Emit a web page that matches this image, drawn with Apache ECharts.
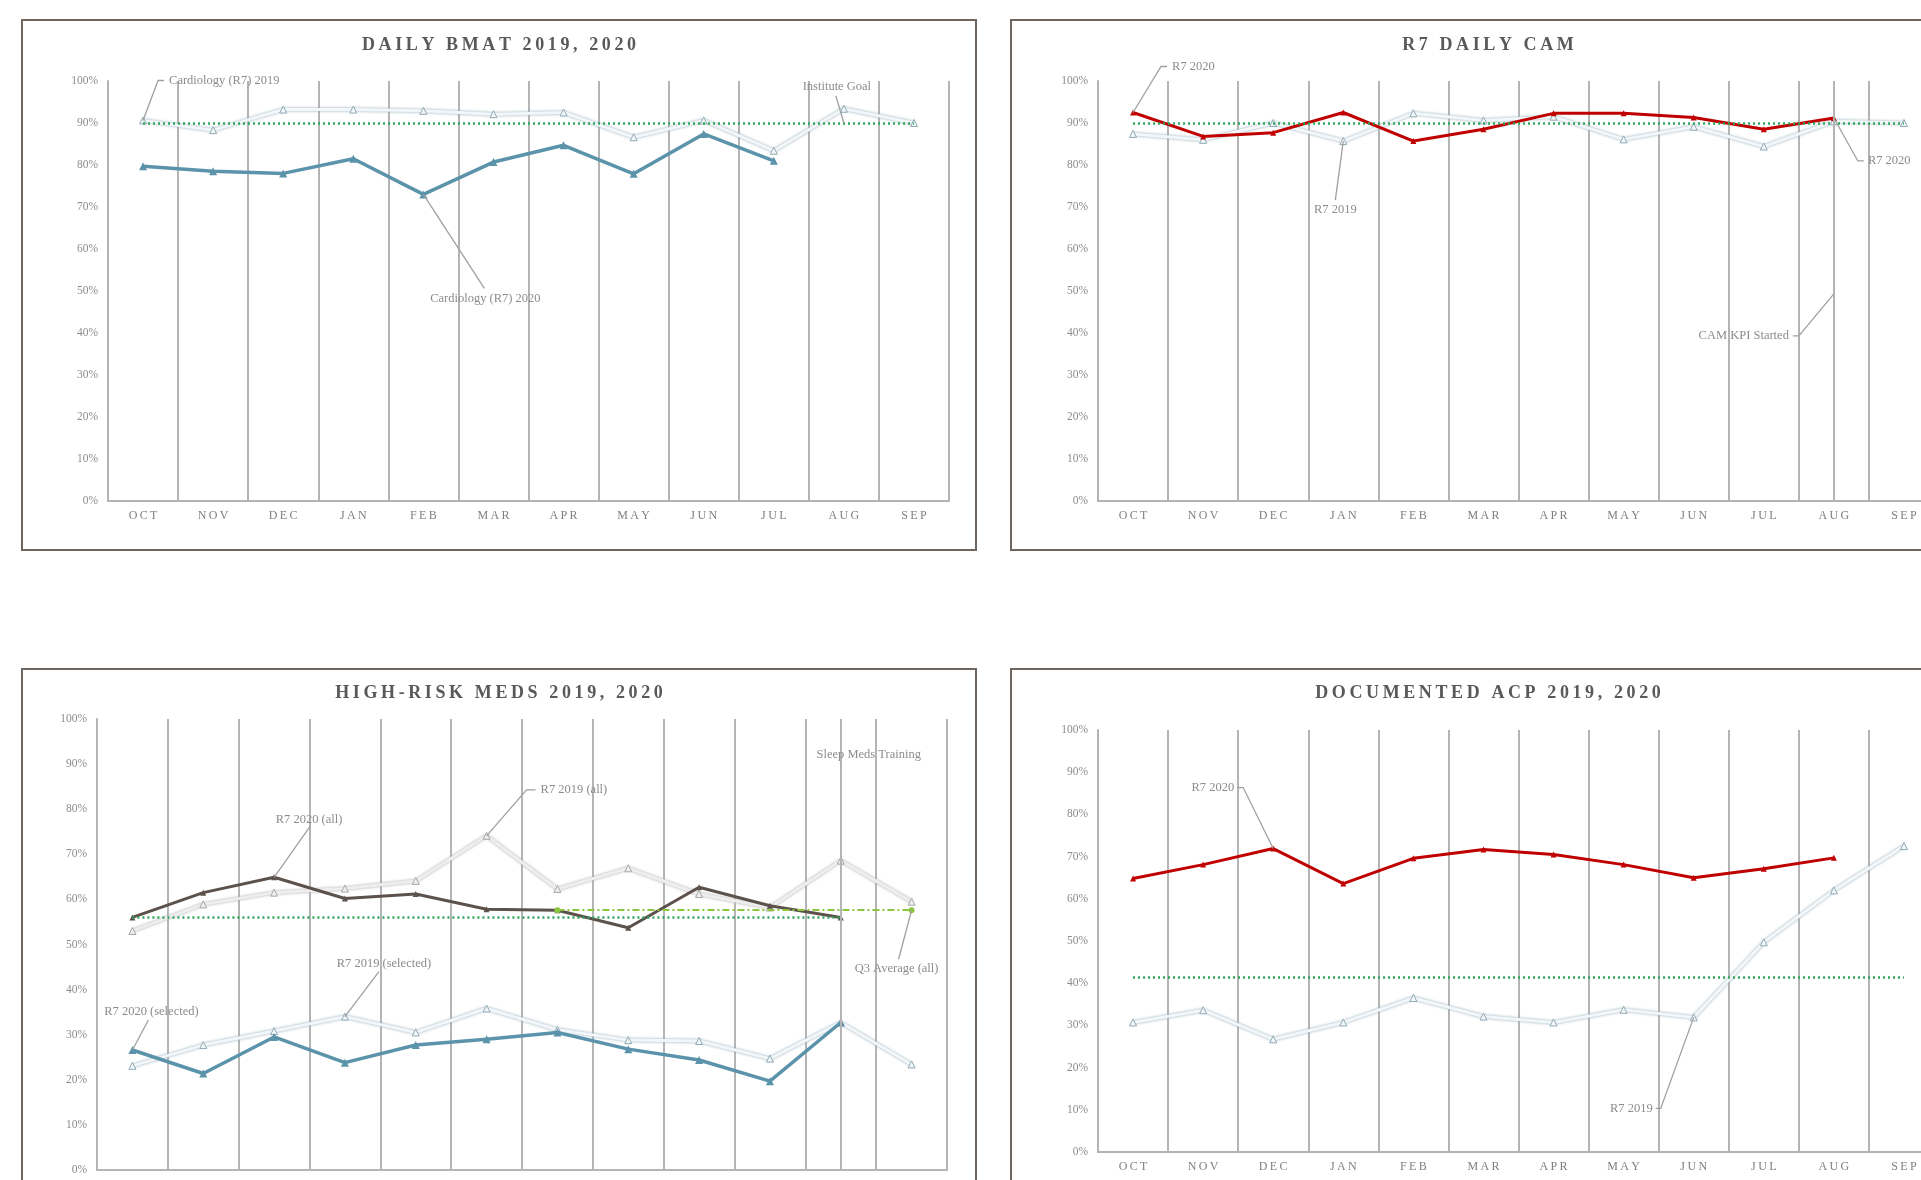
<!DOCTYPE html>
<html>
<head>
<meta charset="utf-8">
<script src="https://cdn.jsdelivr.net/npm/echarts@6/dist/echarts.min.js"></script>
<style>
  html, body { margin: 0; padding: 0; background: #fff; }
  #chart { width: 1921px; height: 1180px; }
</style>
</head>
<body>
<div id="chart"></div>
<script>
// months of the fiscal year (Oct -> Sep)
const months = ["OCT", "NOV", "DEC", "JAN", "FEB", "MAR", "APR", "MAY", "JUN", "JUL", "AUG", "SEP"];

// DAILY BMAT
const bmat2019 = [90.6, 88.3, 93.2, 93.2, 92.9, 92.1, 92.5, 86.6, 90.6, 83.4, 93.4, 90.0];
const bmat2020 = [79.7, 78.5, 78.0, 81.5, 73.0, 80.7, 84.7, 77.9, 87.4, 81.0];
const bmatGoal = 90;

// R7 DAILY CAM
const cam2019 = [87.4, 86.0, 90.0, 85.7, 92.3, 90.6, 91.5, 86.1, 89.1, 84.4, 90.4, 90.0];
const cam2020 = [92.5, 86.8, 87.7, 92.5, 85.7, 88.5, 92.3, 92.3, 91.3, 88.5, 91.2];
const camGoal = 90;
const camKpiMonth = "AUG";

// HIGH-RISK MEDS
const medsAll2019 = [53.0, 58.9, 61.5, 62.4, 64.1, 74.1, 62.3, 66.9, 61.2, 58.2, 68.6, 59.5];
const medsAll2020 = [56.0, 61.5, 64.9, 60.2, 61.2, 57.8, 57.6, 53.7, 62.7, 58.6, 56.0];
const medsSel2019 = [23.1, 27.7, 30.8, 34.0, 30.5, 35.8, 31.1, 28.8, 28.6, 24.7, 32.7, 23.4];
const medsSel2020 = [26.6, 21.4, 29.5, 23.8, 27.7, 29.0, 30.5, 26.8, 24.4, 19.7, 32.7];
const medsGoal = 56;
const medsQ3Avg = 57.6;
const sleepMedsMonth = "AUG";

// DOCUMENTED ACP
const acp2019 = [30.7, 33.6, 26.7, 30.7, 36.5, 32.1, 30.7, 33.7, 31.9, 49.7, 62.0, 72.5];
const acp2020 = [64.8, 68.1, 71.9, 63.6, 69.6, 71.7, 70.5, 68.1, 65.0, 67.1, 69.7];
const acpGoal = 41.5;

const titles = ["DAILY BMAT 2019, 2020", "R7 DAILY CAM", "HIGH-RISK MEDS 2019, 2020", "DOCUMENTED ACP 2019, 2020"];

const FONT = '"Liberation Serif", "DejaVu Serif", serif';
const GRID_COLOR = "#b4b4b4";
const NOTE_GRAY = "#8c8c8c";
const GREEN = "#2ea55a";
const BLUE = "#5b93ab";
const RED = "#c00000";
const BROWN = "#5c514b";

function spaced(s) {
    return s.split("").join("\u2009");
}

// grids run off the page on the right / bottom like the source screenshot
const grids = [
    { left: 108, top: 81, width: 841, height: 420 },
    { left: 1098, top: 81, width: 841, height: 420 },
    { left: 97, top: 719, width: 850, height: 451 },
    { left: 1098, top: 730, width: 841, height: 422 }
].map(g => Object.assign(g, { outerBoundsMode: "none", containLabel: false }));

const xAxes = grids.map((g, i) => ({
    type: "category",
    gridIndex: i,
    data: months,
    boundaryGap: true,
    axisLine: { show: true, lineStyle: { color: GRID_COLOR, width: 2 } },
    axisTick: { show: false },
    axisLabel: {
        color: "#7f7f7f", fontFamily: FONT, fontSize: 12, margin: 9,
        interval: 0, formatter: v => spaced(v)
    },
    splitLine: { show: true, lineStyle: { color: GRID_COLOR, width: 2 } }
}));

const yAxes = grids.map((g, i) => ({
    type: "value",
    gridIndex: i,
    min: 0,
    max: 100,
    interval: 10,
    axisLine: { show: true, lineStyle: { color: GRID_COLOR, width: 2 } },
    axisTick: { show: false },
    splitLine: { show: false },
    axisLabel: { color: NOTE_GRAY, fontFamily: FONT, fontSize: 11.5, margin: 10, formatter: "{value}%" }
}));

// pale 2019 lines: light fill with a soft coloured edge
function paleLine(data, i, fill, edge) {
    return {
        type: "line", xAxisIndex: i, yAxisIndex: i, data: data,
        symbol: "triangle", symbolSize: 7, z: 2,
        lineStyle: { color: fill, width: 3, shadowColor: edge, shadowBlur: 3 },
        itemStyle: { color: fill, borderColor: edge, borderWidth: 1 }
    };
}

function solidLine(data, i, color, width, size) {
    return {
        type: "line", xAxisIndex: i, yAxisIndex: i, data: data,
        symbol: "triangle", symbolSize: size, z: 3,
        lineStyle: { color: color, width: width },
        itemStyle: { color: color }
    };
}

function levelLine(from, to, value, style, symbol) {
    return {
        silent: true,
        symbol: symbol || "none",
        symbolSize: 6,
        label: { show: false },
        lineStyle: style,
        data: [[{ coord: [from, value] }, { coord: [to, value] }]]
    };
}

function monthLine(month) {
    return {
        silent: true,
        symbol: "none",
        label: { show: false },
        lineStyle: { color: GRID_COLOR, width: 2, type: "solid" },
        data: [{ xAxis: month }]
    };
}

const dotted = { color: GREEN, width: 2.5, type: [2, 3] };

const s = [];

// panel 1
const b19 = paleLine(bmat2019, 0, "#f3f7f9", "#8faab6");
b19.markLine = levelLine("OCT", "SEP", bmatGoal, dotted);
s.push(b19);
s.push(solidLine(bmat2020, 0, BLUE, 3.5, 8));

// panel 2
const c19 = paleLine(cam2019, 1, "#f3f7f9", "#8faab6");
c19.markLine = levelLine("OCT", "SEP", camGoal, dotted);
s.push(c19);
const c20 = solidLine(cam2020, 1, RED, 3, 6);
c20.markLine = monthLine(camKpiMonth);
s.push(c20);

// panel 3
const ma19 = paleLine(medsAll2019, 2, "#eeeeee", "#a8a8a8");
ma19.markLine = levelLine("OCT", "AUG", medsGoal, dotted);
s.push(ma19);
const ms19 = paleLine(medsSel2019, 2, "#f3f7f9", "#8faab6");
ms19.markLine = levelLine("APR", "SEP", medsQ3Avg,
    { color: "#8cc63f", width: 2, type: [7, 3, 2, 3] }, ["circle", "circle"]);
s.push(ms19);
const ma20 = solidLine(medsAll2020, 2, BROWN, 3, 6);
ma20.markLine = monthLine(sleepMedsMonth);
s.push(ma20);
s.push(solidLine(medsSel2020, 2, BLUE, 3.5, 8));

// panel 4
const a19 = paleLine(acp2019, 3, "#f3f7f9", "#8faab6");
a19.markLine = levelLine("OCT", "SEP", acpGoal, dotted);
s.push(a19);
s.push(solidLine(acp2020, 3, RED, 3, 6));

const chart = echarts.init(document.getElementById("chart"));

chart.setOption({
    animation: false,
    backgroundColor: "#ffffff",
    grid: grids,
    xAxis: xAxes,
    yAxis: yAxes,
    series: s
});

// callouts: anchor = [panel, month index, value]; offsets in px from that anchor
const notes = [
    { at: [0, 0, bmat2019[0]], text: "Cardiology (R7) 2019", pos: [26, -40], align: "left", leader: [[15, -40], [21, -40]] },
    { at: [0, 4, bmat2020[4]], text: "Cardiology (R7) 2020", pos: [62, 104], align: "center", leader: [[61, 94]] },
    { at: [0, 10, bmatGoal], text: "Institute Goal", pos: [-7, -36], align: "center", leader: [[-8, -27]] },
    { at: [1, 0, cam2020[0]], text: "R7 2020", pos: [39, -46], align: "left", leader: [[28, -46], [34, -46]] },
    { at: [1, 3, cam2019[3]], text: "R7 2019", pos: [-8, 69], align: "center", leader: [[-8, 59]] },
    { at: [1, 10, cam2020[10]], text: "R7 2020", pos: [34, 43], align: "left", leader: [[24, 43], [30, 43]] },
    { at: [1, 10, 49.3], text: "CAM KPI Started", pos: [-45, 42], align: "right", leader: [[-35, 42], [-41, 42]] },
    { at: [2, 2, medsAll2020[2]], text: "R7 2020 (all)", pos: [35, -58], align: "center", leader: [[36, -51]] },
    { at: [2, 5, medsAll2019[5]], text: "R7 2019 (all)", pos: [54, -46], align: "left", leader: [[40, -46], [49, -46]] },
    { at: [2, 3, medsSel2019[3]], text: "R7 2019 (selected)", pos: [39, -53], align: "center", leader: [[34, -45]] },
    { at: [2, 0, medsSel2020[0]], text: "R7 2020 (selected)", pos: [19, -38], align: "center", leader: [[16, -30]] },
    { at: [2, 10, 92], text: "Sleep Meds Training", pos: [28, 0], align: "center", leader: [] },
    { at: [2, 11, medsQ3Avg], text: "Q3 Average (all)", pos: [-15, 58], align: "center", leader: [[-13, 49]] },
    { at: [3, 2, acp2020[2]], text: "R7 2020", pos: [-39, -61], align: "right", leader: [[-30, -61], [-36, -61]] },
    { at: [3, 8, acp2019[8]], text: "R7 2019", pos: [-41, 91], align: "right", leader: [[-33, 91], [-38, 91]] }
];

const graphics = [];

// panel frames (right and bottom ones run off the page)
const frames = [
    [22, 20, 954, 530],
    [1011, 20, 1000, 530],
    [22, 669, 954, 600],
    [1011, 669, 1000, 600]
];
frames.forEach(f => {
    graphics.push({
        type: "rect", silent: true, z: 10,
        shape: { x: f[0], y: f[1], width: f[2], height: f[3] },
        style: { fill: "none", stroke: "#6f665f", lineWidth: 2 }
    });
});

// panel titles
const titleCenters = [[499, 45], [1488, 45], [499, 693], [1488, 693]];
titles.forEach((t, i) => {
    graphics.push({
        type: "text", silent: true, z: 10,
        x: titleCenters[i][0], y: titleCenters[i][1],
        style: {
            text: spaced(t), fill: "#595959",
            font: 'bold 18px "Liberation Serif", "DejaVu Serif", serif',
            align: "center", textAlign: "center",
            verticalAlign: "middle", textVerticalAlign: "middle"
        }
    });
});

notes.forEach(n => {
    const p = chart.convertToPixel({ gridIndex: n.at[0] }, [n.at[1], n.at[2]]);
    if (n.leader.length) {
        const pts = [p].concat(n.leader.map(d => [p[0] + d[0], p[1] + d[1]]));
        graphics.push({
            type: "polyline", silent: true, z: 10,
            shape: { points: pts },
            style: { stroke: "#a0a0a0", lineWidth: 1.3, fill: "none" }
        });
    }
    graphics.push({
        type: "text", silent: true, z: 11,
        x: p[0] + n.pos[0], y: p[1] + n.pos[1],
        style: {
            text: n.text, fill: NOTE_GRAY,
            font: '12.5px "Liberation Serif", "DejaVu Serif", serif',
            align: n.align, textAlign: n.align,
            verticalAlign: "middle", textVerticalAlign: "middle"
        }
    });
});

chart.setOption({ graphic: graphics });
</script>
</body>
</html>
